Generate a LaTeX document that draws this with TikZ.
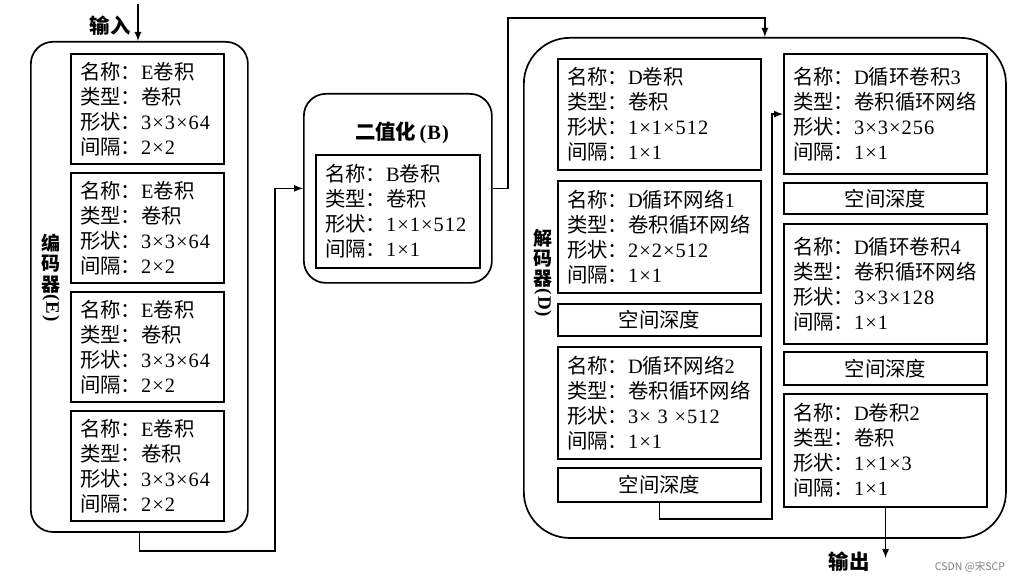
\documentclass[tikz,border=0pt]{standalone}
\usepackage{fontspec}
\setmainfont[LetterSpace=5]{Liberation Serif}
\newfontfamily\cjk{Noto Sans CJK SC}
\usepackage{graphicx}
\usepackage{tikz}
\usetikzlibrary{positioning}

\newcommand{\zh}[1]{{\cjk #1}}
\newcommand{\lay}[4]{\zh{名称：}#1\\\zh{类型：}#2\\\zh{形状：}#3\\\zh{间隔：}#4}

\tikzset{
  group/.style={draw, line width=1.2pt, anchor=north west},
  layer/.style={draw, line width=1.5pt, anchor=north west, align=left, inner xsep=0.225cm, inner ysep=0pt, font=\fontsize{14.5}{17.8}\selectfont},
  depth/.style={draw, line width=1.5pt, anchor=north west, align=center, inner sep=0pt, minimum width=5.075cm, minimum height=0.8cm, font=\fontsize{14.5}{17.8}\selectfont},
  title/.style={font=\fontsize{14.5}{17.8}\selectfont\bfseries},
  side/.style={align=center, inner sep=0pt, font=\fontsize{13.5}{14.4}\selectfont\bfseries},
  link/.style={line width=1.2pt, -latex},
}

\begin{document}
\begin{tikzpicture}[x=0.025cm,y=-0.025cm]
            \useasboundingbox (0,0) rectangle (1036,583);

            \node[group, rounded corners=0.55cm, minimum width=5.425cm, minimum height=12.25cm] (enc) at (30,41) {};
            \foreach \y [count=\i] in {53,172,291,410}
                \node[layer, text width=3.375cm, minimum height=2.75cm] (e\i) at (70,\y) {\lay{E\zh{卷积}}{\zh{卷积}}{3×3×64}{2×2}};
            \node[side] (enclbl) at (51,278) {\zh{编}\\\zh{码}\\\zh{器}\\[-12pt]\rotatebox{-90}{(E)}};

            \node[group, rounded corners=0.55cm, minimum width=4.7cm, minimum height=4.725cm] (bin) at (303,93) {};
            \node[title] (bintitle) at (402,133) {\zh{二值化}\,(B)};
            \node[layer, text width=3.65cm, minimum height=2.825cm] (b1) at (315,154) {\lay{B\zh{卷积}}{\zh{卷积}}{1×1×512}{1×1}};

            \node[group, rounded corners=1.15cm, minimum width=12.05cm, minimum height=12.5cm] (dec) at (523,37) {};
            \node[side] (declbl) at (543,273) {\zh{解}\\\zh{码}\\\zh{器}\\[-12pt]\rotatebox{-90}{(D)}};
            \node[layer, text width=4.625cm, minimum height=2.775cm] (d1) at (557,58) {\lay{D\zh{卷积}}{\zh{卷积}}{1×1×512}{1×1}};
            \node[layer, text width=4.625cm, minimum height=2.8cm] (d2) at (557,180) {\lay{D\zh{循环网络}1}{\zh{卷积循环网络}}{2×2×512}{1×1}};
            \node[depth] (s1) at (557,303) {\zh{空间深度}};
            \node[layer, text width=4.625cm, minimum height=2.8cm] (d3) at (557,346) {\lay{D\zh{循环网络}2}{\zh{卷积循环网络}}{3×\ 3\ ×512}{1×1}};
            \node[depth, minimum height=0.85cm] (s2) at (557,467) {\zh{空间深度}};
            \node[layer, text width=4.625cm, minimum height=3cm] (d4) at (783,53) {\lay{D\zh{循环卷积}3}{\zh{卷积循环网络}}{3×3×256}{1×1}};
            \node[depth, minimum height=0.775cm] (s3) at (783,182) {\zh{空间深度}};
            \node[layer, text width=4.625cm, minimum height=3cm] (d5) at (783,223) {\lay{D\zh{循环卷积}4}{\zh{卷积循环网络}}{3×3×128}{1×1}};
            \node[depth, minimum height=0.825cm] (s4) at (783,351) {\zh{空间深度}};
            \node[layer, text width=4.625cm, minimum height=2.825cm] (d6) at (783,393) {\lay{D\zh{卷积}2}{\zh{卷积}}{1×1×3}{1×1}};

            \coordinate (in) at (138,4);
            \coordinate (k1) at (275,551);
            \coordinate (k2) at (508,18);
            \coordinate (k3) at (772,519);
            \coordinate (out) at (886,558);

            \node[title] (inlbl) at (110,26) {\zh{输入}};
            \draw[link] (in) -- (in |- enc.north);
            \draw[link] (enc.south) |- (k1) |- (bin.west);
            \draw[link] (bin.east) -| (k2) -| (dec.north);
            \draw[link] (s2.south) |- (k3) |- (d4.west);
            \draw[link] (d6.south) -- (d6.south |- out);
            \node[title] (outlbl) at (849,562) {\zh{输出}};

            \node[font=\fontsize{7.5}{9}\selectfont\cjk, text=gray] (mark) at (970,567) {CSDN @宋SCP};
        \end{tikzpicture}
\end{document}
